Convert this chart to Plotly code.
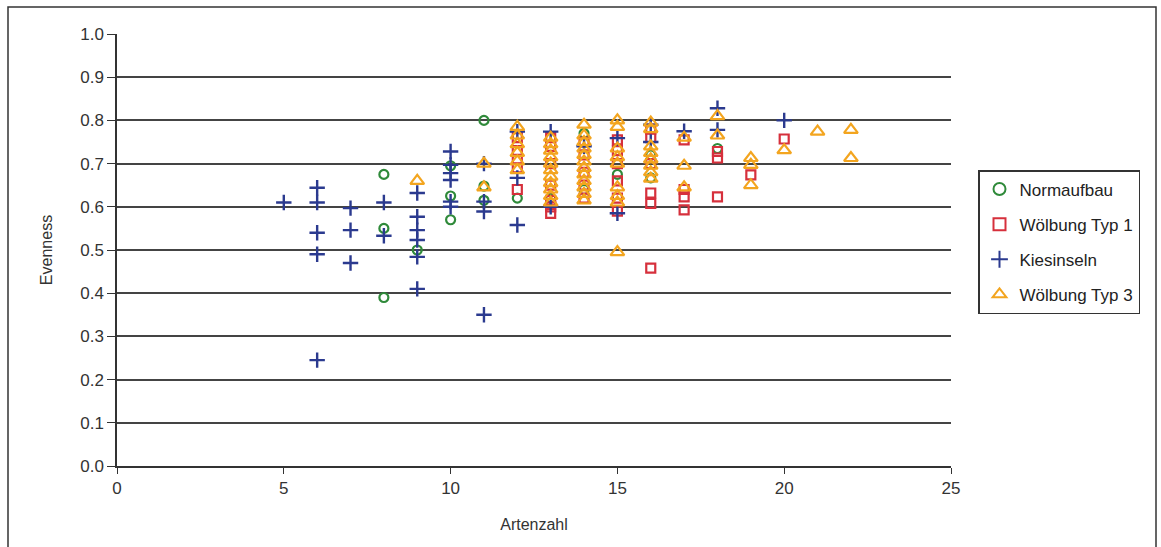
import plotly.graph_objects as go

# ---- data ----
norm_x = [8, 8, 8, 9, 10, 10, 10, 11, 11, 11, 12, 13, 14, 14, 15, 16, 16, 18]
norm_y = [0.675, 0.55, 0.39, 0.50, 0.695, 0.625, 0.57, 0.80, 0.648, 0.615, 0.62, 0.62, 0.77, 0.64, 0.675, 0.667, 0.72, 0.735]

w1_x = [12, 12, 12, 12, 12,
        13, 13, 13, 13, 13, 13, 13,
        14, 14, 14, 14, 14,
        15, 15, 15, 15, 15, 15,
        16, 16, 16, 16, 16, 16,
        17, 17, 17, 17,
        18, 18, 18,
        19, 20]
w1_y = [0.64, 0.76, 0.73, 0.71, 0.69,
        0.585, 0.60, 0.615, 0.65, 0.70, 0.74, 0.76,
        0.62, 0.65, 0.68, 0.72, 0.75,
        0.59, 0.62, 0.66, 0.70, 0.73, 0.755,
        0.458, 0.608, 0.632, 0.70, 0.76, 0.78,
        0.593, 0.623, 0.64, 0.755,
        0.623, 0.713, 0.728,
        0.674, 0.757]

kies_x = [5,
          6, 6, 6, 6, 6,
          7, 7, 7,
          8, 8,
          9, 9, 9, 9, 9, 9,
          10, 10, 10, 10, 10, 10,
          11, 11, 11, 11,
          12, 12, 12,
          13, 13,
          14,
          15, 15,
          16, 16,
          17,
          18, 18,
          20]
kies_y = [0.61,
          0.644, 0.61, 0.54, 0.49, 0.245,
          0.597, 0.546, 0.47,
          0.61, 0.533,
          0.632, 0.577, 0.546, 0.523, 0.484, 0.41,
          0.728, 0.697, 0.678, 0.662, 0.612, 0.60,
          0.612, 0.589, 0.35, 0.70,
          0.774, 0.667, 0.558,
          0.774, 0.60,
          0.74,
          0.759, 0.585,
          0.75, 0.79,
          0.775,
          0.828, 0.778,
          0.80]

w3_x = [9,
        11, 11,
        12, 12, 12, 12, 12, 12,
        13, 13, 13, 13, 13, 13, 13, 13, 13, 13, 13,
        14, 14, 14, 14, 14, 14, 14, 14, 14, 14, 14, 14,
        15, 15, 15, 15, 15, 15, 15, 15, 15,
        16, 16, 16, 16, 16, 16, 16, 16,
        17, 17, 17,
        18, 18,
        19, 19, 19,
        20, 21, 22, 22]
w3_y = [0.66,
        0.70, 0.645,
        0.785, 0.765, 0.745, 0.725, 0.705, 0.685,
        0.76, 0.745, 0.73, 0.715, 0.70, 0.685, 0.67, 0.655, 0.64, 0.625, 0.61,
        0.79, 0.765, 0.75, 0.735, 0.72, 0.705, 0.69, 0.675, 0.66, 0.645, 0.63, 0.615,
        0.80, 0.785, 0.735, 0.715, 0.70, 0.645, 0.625, 0.61, 0.495,
        0.795, 0.78, 0.74, 0.725, 0.71, 0.695, 0.68, 0.665,
        0.76, 0.695, 0.645,
        0.81, 0.765,
        0.713, 0.697, 0.65,
        0.731, 0.774, 0.778, 0.713]

x_ticks = [0, 5, 10, 15, 20, 25]
y_ticks = [0.0, 0.1, 0.2, 0.3, 0.4, 0.5, 0.6, 0.7, 0.8, 0.9, 1.0]

FONT = "Liberation Sans, Arial, sans-serif"

fig = go.Figure()
fig.add_trace(go.Scatter(x=norm_x, y=norm_y, mode="markers", name="Normaufbau", legendgroup="a",
                         marker=dict(symbol="circle-open", size=9, color="#2f8a3a",
                                     line=dict(width=2.2, color="#2f8a3a"))))
fig.add_trace(go.Scatter(x=w1_x, y=w1_y, mode="markers", name="Wölbung Typ 1", legendgroup="b",
                         marker=dict(symbol="square-open", size=9, color="#d6303c",
                                     line=dict(width=2.2, color="#d6303c"))))
fig.add_trace(go.Scatter(x=kies_x, y=kies_y, mode="markers", name="Kiesinseln", legendgroup="c",
                         marker=dict(symbol="cross-thin-open", size=11, color="#2b3a8f",
                                     line=dict(width=2.4, color="#2b3a8f"))))
fig.add_trace(go.Scatter(x=w3_x, y=w3_y, mode="markers", name="Wölbung Typ 3", legendgroup="d",
                         marker=dict(symbol="triangle-up-open", size=12, color="#f3a51f",
                                     line=dict(width=2.2, color="#f3a51f"))))

W, H = 1161, 547
L, R, T, B = 117, 951, 34, 466

def px(xpix):
    return (xpix - L) / (R - L)

def py(ypix):
    return (B - ypix) / (B - T)

fig.update_layout(
    width=W, height=H,
    margin=dict(l=L, r=W - R, t=T, b=H - B),
    paper_bgcolor="white", plot_bgcolor="white",
    font=dict(family=FONT, size=17, color="#333333"),
    showlegend=True,
    legend=dict(x=px(978), y=py(170), xanchor="left", yanchor="top",
                bgcolor="white", bordercolor="#333333", borderwidth=1.5,
                font=dict(family=FONT, size=17, color="#222222"),
                itemsizing="constant", tracegroupgap=10, itemwidth=30),
    xaxis=dict(range=[0, 25], tickvals=x_ticks, ticktext=[str(v) for v in x_ticks],
               showgrid=False, zeroline=False, showline=True, linecolor="#333333", linewidth=1.5,
               ticks="outside", ticklen=6, tickcolor="#333333",
               tickfont=dict(family=FONT, size=17, color="#333333"),
               title=dict(text="Artenzahl", standoff=22, font=dict(family=FONT, size=16, color="#333333"))),
    yaxis=dict(range=[0, 1.0], tickvals=y_ticks, ticktext=[f"{v:.1f}" for v in y_ticks],
               showgrid=True, gridcolor="#444444", gridwidth=1.8,
               zeroline=False, showline=True, linecolor="#333333", linewidth=1.5,
               ticks="outside", ticklen=8, tickcolor="#333333",
               tickfont=dict(family=FONT, size=17, color="#333333"),
               title=dict(text="Evenness", standoff=24, font=dict(family=FONT, size=16, color="#333333"))),
)

# outer chart frame
fig.add_shape(type="rect", xref="paper", yref="paper",
              x0=px(8), x1=px(1156), y0=py(560), y1=py(7),
              line=dict(color="#333333", width=1.5), fillcolor="rgba(0,0,0,0)", layer="below")

fig.write_html("out.html")
